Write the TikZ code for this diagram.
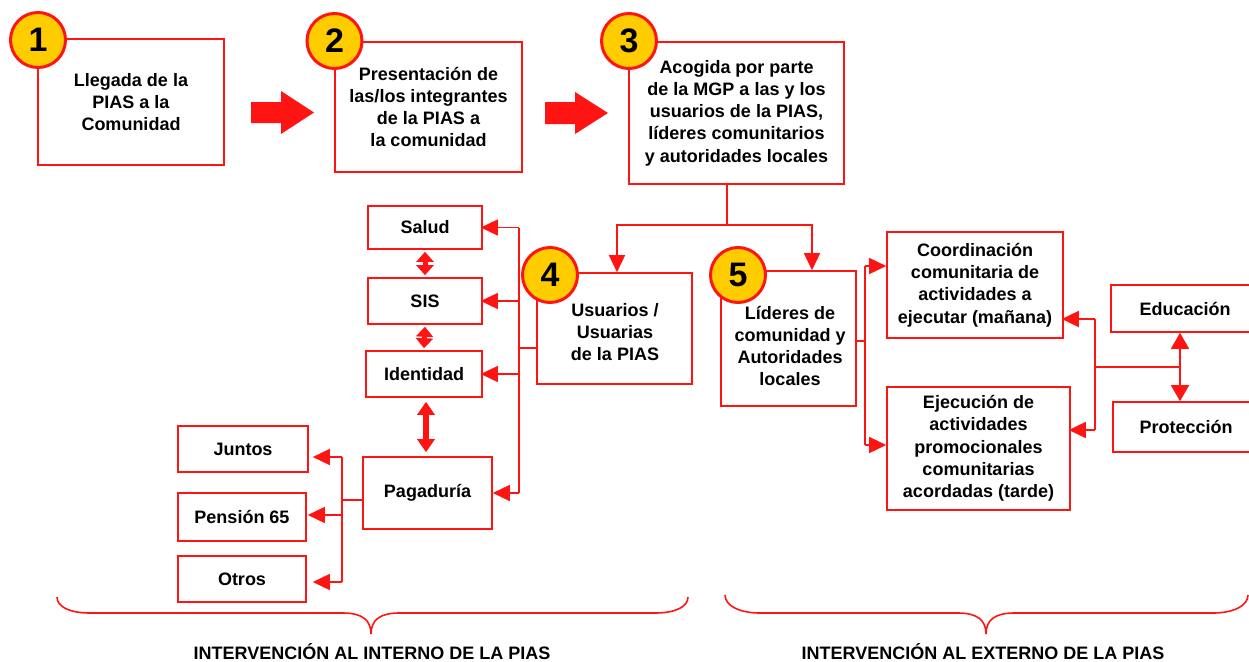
\documentclass[tikz,border=0pt]{standalone}
\usepackage{fontspec}
\setmainfont{Liberation Sans}
\usetikzlibrary{arrows.meta}
\definecolor{myred}{HTML}{FF1414}
\definecolor{myyel}{HTML}{FFCC00}
\newcommand{\dfont}{\fontsize{18}{22.3}\selectfont\bfseries}
\begin{document}
\begin{tikzpicture}[x=1pt,y=-1pt,
  box/.style={draw=myred, line width=1.6pt, fill=white, inner sep=0pt, align=center, font=\dfont},
  txt/.style={inner sep=0pt, align=center, font=\dfont},
  numc/.style={circle, draw=myred, line width=3pt, fill=myyel, minimum size=55pt, inner sep=0pt, font=\fontsize{34}{34}\selectfont\bfseries},
  conn/.style={draw=myred, line width=1.5pt},
  arr/.style={conn, -{Triangle[length=17pt,width=16pt]}},
  dblS/.style={draw=myred, line width=5pt, {Triangle[length=10pt,width=17pt]}-{Triangle[length=10pt,width=17pt]}},
  dblL/.style={draw=myred, line width=6pt, {Triangle[length=13pt,width=17pt]}-{Triangle[length=13pt,width=17pt]}},
  dblE/.style={draw=myred, line width=1.5pt, {Triangle[length=16pt,width=18pt]}-{Triangle[length=16pt,width=18pt]}},
  brace/.style={draw=myred, line width=1.6pt}
]
\useasboundingbox (0,0) rectangle (1249,661);
\fill[white] (0,0) rectangle (1249,661);

% top row
\node[box, minimum width=186pt, minimum height=126pt] (b1) at (131,102) {Llegada de la\\PIAS a la\\Comunidad};
\node[box, minimum width=187pt, minimum height=130pt] (b2) at (428.5,107) {Presentación de\\las/los integrantes\\de la PIAS a\\la comunidad};
\node[box, minimum width=215pt, minimum height=142pt] (b3) at (736.5,113) {Acogida por parte\\de la MGP a las y los\\usuarios de la PIAS,\\líderes comunitarios\\y autoridades locales};

% block arrows
\fill[myred] (251,102) -- (281,102) -- (281,91) -- (314,112.5) -- (281,134) -- (281,123) -- (251,123) -- cycle;
\fill[myred] (545,102) -- (575,102) -- (575,92) -- (608,113) -- (575,134) -- (575,124) -- (545,124) -- cycle;

% middle boxes
\node[box, minimum width=155pt, minimum height=111pt] (b4) at (614.5,328.5) {};
\node[txt] (t4) at (615,332) {Usuarios /\\Usuarias\\de la PIAS};
\node[box, minimum width=135pt, minimum height=135pt] (b5) at (788.5,338.5) {};
\node[txt] (t5) at (790,346) {Líderes de\\comunidad y\\Autoridades\\locales};

\node[box, minimum width=114pt, minimum height=43pt] (salud) at (425,227.5) {Salud};
\node[box, minimum width=114pt, minimum height=46pt] (sis) at (425,301) {SIS};
\node[box, minimum width=116pt, minimum height=46pt] (ident) at (424,374) {Identidad};
\node[box, minimum width=129pt, minimum height=72pt] (pag) at (427.5,493) {Pagaduría};
\node[box, minimum width=130pt, minimum height=46pt] (juntos) at (243,449) {Juntos};
\node[box, minimum width=128pt, minimum height=48pt] (pension) at (242,517) {Pensión 65};
\node[box, minimum width=128pt, minimum height=46pt] (otros) at (242,579) {Otros};

\node[box, minimum width=176pt, minimum height=106pt] (coord) at (975,285) {Coordinación\\comunitaria de\\actividades a\\ejecutar (mañana)};
\node[box, minimum width=183pt, minimum height=123pt] (ejec) at (978.5,448.5) {Ejecución de\\actividades\\promocionales\\comunitarias\\acordadas (tarde)};
\node[box, minimum width=148pt, minimum height=47pt] (educ) at (1185,308.5) {Educación};
\node[box, minimum width=146pt, minimum height=50pt] (prot) at (1186,427) {Protección};

% connectors from box 3
\coordinate (j3) at (727,225);
\draw[conn] (j3 |- b3.south) -- (j3);
\draw[arr] (j3) -| ([xshift=2.5pt]b4.north);
\draw[arr] (j3) -| ([xshift=23.5pt]b5.north);

% bus from box 4
\coordinate (v4) at (519,348);
\draw[conn] (b4.west |- v4) -- (v4);
\draw[conn] (v4 |- salud.east) -- (v4 |- pag.east);
\draw[arr, shorten >=-2pt] (v4 |- salud.east) -- (salud.east);
\draw[arr, shorten >=-2pt] (v4 |- sis.east) -- (sis.east);
\draw[arr, shorten >=-2pt] (v4 |- ident.east) -- (ident.east);
\draw[arr] (v4 |- pag.east) -- (pag.east);

% double arrows left column
\draw[dblS] ([yshift=-2pt]salud.south) -- ([yshift=2pt]sis.north);
\draw[dblS] ([yshift=-2pt]sis.south) -- ([yshift=2pt]ident.north);
\draw[dblL] ([xshift=2pt,yshift=-4pt]ident.south) -- ([xshift=-1.5pt,yshift=4pt]pag.north);

% Pagaduria fan-out
\coordinate (vp) at (342,500);
\coordinate (pj) at (342,457);
\coordinate (pp) at (342,515);
\coordinate (po) at (342,582);
\draw[conn] (pag.west |- vp) -- (vp);
\draw[conn] (pj) -- (po);
\draw[arr, shorten >=4pt] (pj) -- (juntos.east |- pj);
\draw[arr, shorten >=1pt] (pp) -- (pension.east |- pp);
\draw[arr, shorten >=6pt] (po) -- (otros.east |- po);

% box 5 fan-out
\coordinate (v5) at (865,341);
\coordinate (v5a) at (865,266);
\coordinate (v5b) at (865,445);
\draw[conn] (b5.east |- v5) -- (v5);
\draw[conn] (v5a) -- (v5b);
\draw[arr] (v5a) -- (coord.west |- v5a);
\draw[arr] (v5b) -- (ejec.west |- v5b);

% right fan-in
\coordinate (er) at (1180,367);
\coordinate (vr) at (1095,367);
\coordinate (vra) at (1095,319);
\coordinate (vrb) at (1095,430);
\draw[conn] (er) -- (vr);
\draw[conn] (vra) -- (vrb);
\draw[arr, shorten >=-2pt] (vra) -- (coord.east |- vra);
\draw[arr, shorten >=-2pt] (vrb) -- (ejec.east |- vrb);
\draw[dblE] (er |- educ.south) -- (er |- prot.north);

% number circles
\node[numc] (c1) at (38,40) {1};
\node[numc] (c2) at (334.5,41) {2};
\node[numc] (c3) at (629,41) {3};
\node[numc] (c4) at (550,275) {4};
\node[numc] (c5) at (738,275) {5};

% braces
\draw[brace] (57,597) .. controls (57,607) and (70,613) .. (90,613) -- (343,613) .. controls (362,613) and (371,620) .. (371,634) .. controls (371,620) and (380,613) .. (399,613) -- (655,613) .. controls (675,613) and (688,607) .. (688,597);
\draw[brace] (725,595) .. controls (725,606) and (740,613) .. (760,613) -- (958,613) .. controls (977,613) and (986,620) .. (986,634) .. controls (986,620) and (995,613) .. (1014,613) -- (1213,613) .. controls (1233,613) and (1248,606) .. (1248,595);

\node[txt, anchor=base] (l1) at (372,659) {INTERVENCIÓN AL INTERNO DE LA PIAS};
\node[txt, anchor=base] (l2) at (983,659) {INTERVENCIÓN AL EXTERNO DE LA PIAS};
\end{tikzpicture}
\end{document}
